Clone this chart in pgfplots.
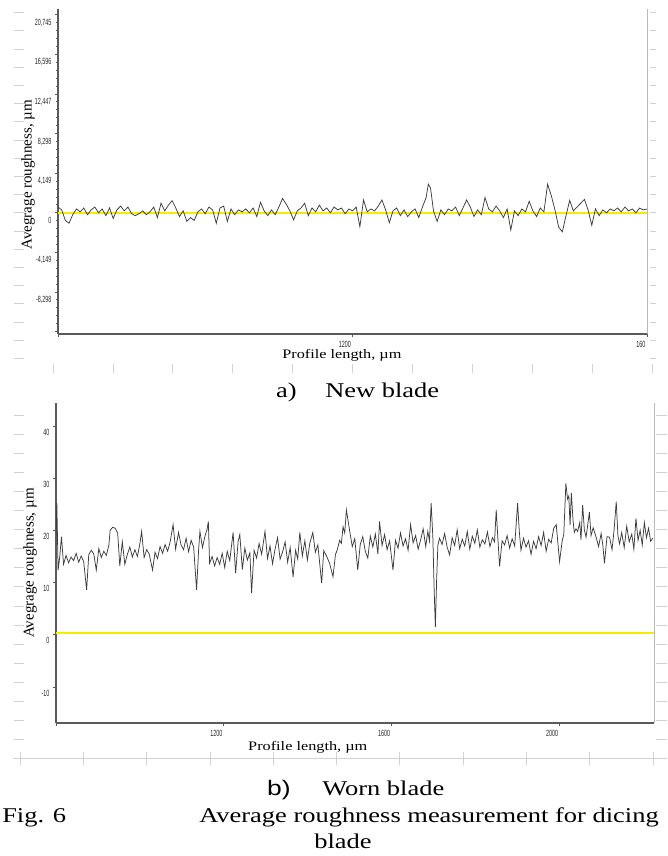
\documentclass[border=0pt]{standalone}
\usepackage{fontspec}
\setmainfont{Liberation Serif}
\setsansfont{Liberation Sans}
\usepackage{graphicx}
\usepackage{pgfplots}
\pgfplotsset{compat=1.18}
\definecolor{trace}{HTML}{3C3C3C}
\definecolor{meanline}{HTML}{F2EE00}
\definecolor{axisgray}{HTML}{5A5A5A}
\definecolor{ruler}{HTML}{D2D2D2}
\newcommand{\tl}[1]{\scalebox{0.6}[1]{#1}}

\pgfplotsset{
  profile/.style={
    scale only axis, axis x line*=bottom, axis y line*=left,
    axis line style={axisgray, line width=1.4pt, -},
    tick align=outside, major tick length=3pt, minor tick length=1.5pt,
    every tick/.style={axisgray, line width=0.8pt},
    minor tick num=4,
    tick label style={font=\sffamily\fontsize{9}{9}\selectfont, text=black!85},
    xticklabel style={anchor=north east, xshift=2pt, yshift=-1pt},
    yticklabel style={anchor=east},
    label style={font=\fontsize{13}{14}\selectfont},
    after end axis/.code={\draw[gray!55, line width=0.8pt] (rel axis cs:1,0) -- (rel axis cs:1,1);},
  }
}

\begin{document}
\begin{tikzpicture}
\useasboundingbox (0,0) rectangle (667pt,856pt);

% ruler marks of the page behind the charts
\foreach \k in {0,...,19}{
  \pgfmathsetmacro\yy{856-12.7-18.2*\k}
  \draw[ruler, line width=0.8pt] (14pt,\yy pt) -- (24pt,\yy pt);
  \draw[ruler, line width=0.8pt] (650pt,\yy pt) -- (656pt,\yy pt);
}
\foreach \k in {0,...,10}{
  \pgfmathsetmacro\xx{53+59.9*\k}
  \draw[ruler, line width=0.8pt] (\xx pt,483pt) -- (\xx pt,492pt);
}
\foreach \k in {0,...,17}{
  \pgfmathsetmacro\yy{856-415-19.1*\k}
  \draw[ruler, line width=0.8pt] (14pt,\yy pt) -- (24pt,\yy pt);
  \draw[ruler, line width=0.8pt] (656pt,\yy pt) -- (667pt,\yy pt);
}
\draw[ruler, line width=0.8pt] (13pt,98pt) -- (667pt,98pt);
\foreach \k in {0,...,10}{
  \pgfmathsetmacro\xx{20+63.3*\k}
  \draw[ruler, line width=0.8pt] (\xx pt,91pt) -- (\xx pt,104pt);
}

% a) new blade
\begin{axis}[profile, at={(58pt,522pt)}, anchor=south west,
  width=589pt, height=325pt,
  xmin=800, xmax=1600, ymin=-12.7, ymax=21.35,
  xtick={800,1200,1600}, xticklabels={{},\tl{1200},\tl{160}},
  ytick={-12.447,-8.298,-4.149,0,4.149,8.298,12.447,16.596,20.745},
  yticklabels={{},\tl{-8,298},\tl{-4,149},\tl{0},\tl{4,149},\tl{8,298},\tl{12,447},\tl{16,596},\tl{20,745}},
  yticklabel style={yshift=-8pt},
  xlabel={Profile length, µm},
  xlabel style={at={(rel axis cs:0.482,0)}, anchor=center, yshift=-21pt, xscale=1.25},
  ylabel={Avegrage roughness, µm},
  ylabel style={at={(rel axis cs:0,0.49)}, anchor=center, yshift=30pt, font=\fontsize{15}{16}\selectfont},
]
\addplot[meanline, line width=1.6pt] coordinates {(800,0) (1600,0)};
\addplot[trace, line width=0.75pt] coordinates {
(800,0.6)(805,0.3)(810,-0.8)(815,-1.1)(820,-0.2)(825,0.4)(830,0.1)(835,0.5)(840,-0.2)(845,0.3)
(850,0.6)(855,0.0)(860,0.4)(865,-0.3)(870,0.5)(875,-0.6)(880,0.3)(885,0.7)(890,0.2)(895,0.6)
(900,-0.1)(905,-0.3)(910,-0.1)(915,0.2)(920,-0.2)(925,0.1)(930,0.6)(935,-0.5)(940,1.0)(945,0.2)
(950,0.8)(955,1.27)(960,0.5)(965,-0.4)(970,0.2)(975,-0.9)(980,-0.5)(985,-0.8)(990,0.1)(995,0.4)
(1000,-0.1)(1005,0.6)(1010,0.3)(1015,-1.1)(1020,0.5)(1025,0.7)(1030,-0.9)(1035,0.4)(1040,-0.2)(1045,0.3)
(1050,0.1)(1055,0.4)(1060,0.0)(1065,0.5)(1070,-0.4)(1075,1.1)(1080,0.2)(1085,-0.3)(1090,0.3)(1095,-0.2)
(1100,0.6)(1105,1.5)(1110,0.9)(1115,0.2)(1120,-0.75)(1125,0.2)(1130,0.5)(1135,1.0)(1140,-0.3)(1145,0.5)
(1150,0.1)(1155,0.8)(1160,0.2)(1165,0.5)(1170,0.0)(1175,0.6)(1180,0.3)(1185,0.5)(1190,-0.1)(1195,0.4)
(1200,0.2)(1205,0.6)(1210,-1.46)(1215,1.34)(1220,0.1)(1225,0.4)(1230,0.2)(1235,0.7)(1240,1.34)(1245,0.3)
(1250,-1.04)(1255,0.2)(1260,0.5)(1265,-0.3)(1270,0.3)(1275,-0.4)(1280,0.1)(1285,0.4)(1290,-0.5)(1295,0.6)
(1300,1.6)(1303,3.0)(1306,2.6)(1310,0.2)(1315,-0.9)(1320,0.3)(1325,-0.2)(1330,0.4)(1335,0.2)(1340,0.6)
(1345,-0.3)(1350,0.5)(1355,1.34)(1360,0.6)(1365,-0.4)(1370,0.3)(1375,-0.2)(1380,1.6)(1385,0.4)(1390,0.1)
(1395,0.7)(1400,0.2)(1405,-0.5)(1410,0.4)(1415,-1.8)(1420,0.2)(1425,-0.3)(1430,0.4)(1435,0.1)(1440,1.2)
(1445,0.2)(1450,-0.4)(1455,0.5)(1460,0.1)(1465,3.0)(1470,1.8)(1475,0.3)(1480,-1.5)(1485,-2.0)(1490,-0.3)
(1495,1.3)(1500,0.2)(1505,0.6)(1510,1.0)(1515,1.4)(1520,0.3)(1525,-1.3)(1530,0.4)(1535,-0.3)(1540,0.3)
(1545,0.0)(1550,0.4)(1555,0.2)(1560,0.5)(1565,0.1)(1570,0.6)(1575,0.2)(1580,0.4)(1585,0.0)(1590,0.5)
(1595,0.3)(1600,0.4)
};
\end{axis}

% b) worn blade
\begin{axis}[profile, at={(56pt,133pt)}, anchor=south west,
  width=598pt, height=320pt,
  xmin=800, xmax=2225, ymin=-16.9, ymax=44.4,
  xtick={800,1200,1600,2000}, xticklabels={{},\tl{1200},\tl{1600},\tl{2000}},
  ytick={-10,0,10,20,30,40},
  yticklabels={\tl{-10},\tl{0},\tl{10},\tl{20},\tl{30},\tl{40}},
  yticklabel style={yshift=-6pt},
  xlabel={Profile length, µm},
  xlabel style={at={(rel axis cs:0.421,0)}, anchor=center, yshift=-24pt, xscale=1.25},
  ylabel={Avegrage roughness, µm},
  ylabel style={at={(rel axis cs:0,0.5)}, anchor=center, yshift=26pt, font=\fontsize{15}{16}\selectfont},
]
\addplot[meanline, line width=1.6pt] coordinates {(800,0.3) (2225,0.3)};
\addplot[trace, line width=0.75pt] coordinates {
(800,19.0)(802,25.2)(805,12.4)(809,15.0)(813,18.8)(818,13.5)(824,15.2)(830,13.8)(836,14.9)(842,14.2)(848,15.6)
(854,13.9)(860,15.1)(866,14.0)(873,8.6)(878,15.3)(884,16.2)(890,15.5)(896,12.4)(902,16.5)(908,14.8)
(914,16.0)(920,15.2)(926,17.2)(929,20.0)(935,20.6)(941,20.4)(947,19.5)(952,13.2)(958,17.8)(964,13.5)
(970,15.4)(976,16.8)(982,14.9)(988,16.3)(994,15.0)(1000,17.5)(1004,19.8)(1010,14.8)(1016,16.3)(1022,15.5)
(1030,12.4)(1036,15.8)(1042,14.6)(1048,16.9)(1054,15.6)(1060,17.3)(1066,16.0)(1072,17.8)(1079,21.1)(1085,16.4)
(1092,19.6)(1098,17.2)(1104,16.3)(1110,18.5)(1116,15.9)(1122,18.1)(1128,16.8)(1135,8.6)(1140,16.5)(1143,19.8)
(1149,16.7)(1155,18.9)(1160,20.2)(1163,21.7)(1166,13.7)(1172,15.0)(1178,13.2)(1184,14.8)(1190,13.5)(1196,15.6)
(1202,12.9)(1208,16.0)(1214,14.2)(1222,19.6)(1228,11.8)(1234,17.9)(1238,19.2)(1244,12.5)(1250,16.6)(1256,14.3)
(1262,15.7)(1266,8.0)(1272,16.2)(1278,14.7)(1284,17.5)(1290,15.4)(1298,19.8)(1304,14.6)(1310,17.0)(1316,13.6)
(1322,16.4)(1328,18.6)(1334,14.5)(1340,15.9)(1346,17.8)(1352,13.9)(1358,16.7)(1365,11.1)(1371,16.2)(1376,14.5)
(1381,19.6)(1387,15.1)(1393,18.0)(1399,14.3)(1405,17.6)(1412,19.6)(1418,15.8)(1424,17.2)(1428,14.0)(1433,9.9)
(1438,16.1)(1444,15.2)(1452,13.7)(1460,11.1)(1466,15.4)(1470,16.2)(1476,18.1)(1480,17.5)(1484,20.7)(1488,19.5)
(1492,23.9)(1500,19.8)(1506,16.9)(1512,18.4)(1519,12.4)(1525,17.3)(1531,18.8)(1537,16.0)(1543,14.7)(1549,18.9)
(1555,16.8)(1561,19.3)(1567,15.5)(1571,21.7)(1577,17.1)(1583,19.2)(1589,16.3)(1595,18.0)(1603,12.4)(1609,18.1)
(1615,16.6)(1621,19.5)(1627,17.0)(1633,18.4)(1639,16.2)(1645,21.1)(1651,17.6)(1657,19.0)(1663,16.4)(1669,18.2)
(1675,20.3)(1681,16.9)(1686,19.8)(1690,18.0)(1694,25.2)(1698,18.7)(1701,9.0)(1704,1.5)(1707,10.5)(1710,17.2)
(1714,18.5)(1720,17.3)(1726,19.4)(1732,16.8)(1738,15.3)(1744,18.6)(1750,17.1)(1756,20.1)(1762,16.5)(1768,18.3)
(1774,17.0)(1780,19.8)(1786,16.4)(1792,18.9)(1798,17.5)(1804,20.1)(1810,16.8)(1816,18.2)(1822,17.4)(1828,19.7)
(1834,16.9)(1840,18.6)(1845,17.8)(1849,23.9)(1853,18.4)(1857,13.1)(1863,18.0)(1869,17.2)(1875,19.0)(1881,16.6)
(1887,18.4)(1893,17.0)(1900,25.2)(1904,19.8)(1908,16.2)(1914,18.5)(1920,16.8)(1926,18.0)(1932,15.4)(1938,17.9)
(1944,16.5)(1950,18.8)(1956,17.1)(1962,19.6)(1968,16.0)(1974,18.3)(1980,17.6)(1986,20.4)(1992,21.1)(2000,14.0)
(2006,17.9)(2010,19.2)(2015,29.0)(2019,26.0)(2022,26.6)(2025,21.0)(2028,27.2)(2032,22.0)(2035,19.6)(2039,20.3)
(2043,19.8)(2048,21.5)(2051,18.2)(2055,24.9)(2059,20.1)(2063,18.7)(2067,21.0)(2071,23.5)(2075,19.0)(2080,20.5)
(2087,18.7)(2093,16.9)(2099,19.4)(2103,17.2)(2107,13.7)(2113,18.8)(2119,18.7)(2125,16.3)(2130,20.2)(2135,25.5)
(2139,19.0)(2143,17.4)(2148,19.6)(2154,16.7)(2160,20.8)(2166,17.8)(2172,19.3)(2177,16.4)(2182,22.3)(2187,18.1)
(2192,20.0)(2197,17.2)(2202,21.5)(2207,18.6)(2212,20.4)(2217,17.9)(2222,18.5)
};
\end{axis}

% captions
\tikzset{captxt/.style={font=\fontsize{21}{24}\selectfont, xscale=1.26, inner sep=0pt}}
\node[captxt, anchor=base east] at (297pt,458pt) {a)};
\node[captxt, anchor=base west] at (325pt,458pt) {New blade};
\node[captxt, font=\sffamily\fontsize{21}{24}\selectfont, anchor=base east] at (291pt,60pt) {b)};
\node[captxt, anchor=base west] at (322pt,60pt) {Worn blade};
\node[captxt, anchor=base west] at (2pt,33pt) {Fig. 6};
\node[captxt, anchor=base west] at (199pt,33pt) {Average roughness measurement for dicing};
\node[captxt, anchor=base] at (343pt,7pt) {blade};
\end{tikzpicture}
\end{document}
